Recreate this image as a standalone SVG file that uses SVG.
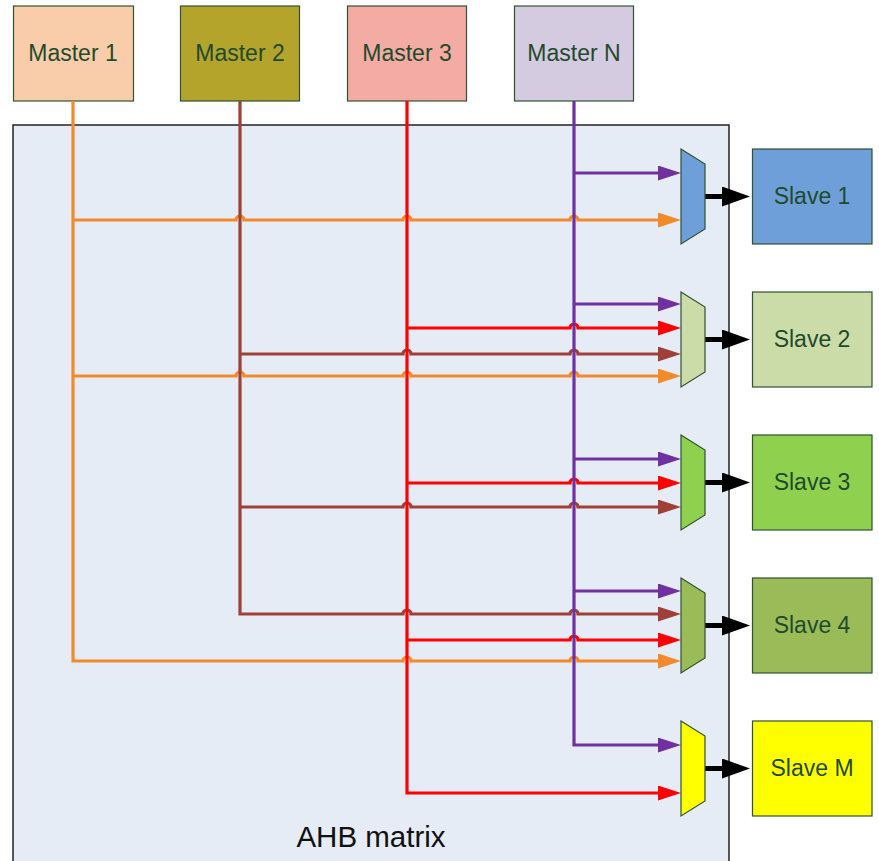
<svg xmlns="http://www.w3.org/2000/svg" width="879" height="861" viewBox="0 0 879 861">
<style>
.box{stroke:#2f5233;stroke-width:1.2}
.lbl{font-family:"Liberation Sans",Arial,sans-serif;font-size:23px;fill:#1f4a2c;text-anchor:middle}
.w{fill:none;stroke-width:3.2}
.o{stroke:#f28a2b}.b{stroke:#9e4038}.r{stroke:#ff0000}.p{stroke:#7030a0}
.out{stroke:#000;stroke-width:5;stroke-linecap:round}
</style>
<defs>
<marker id="ao" markerUnits="userSpaceOnUse" markerWidth="23" markerHeight="15" refX="2" refY="7.5" orient="auto"><path d="M0,0L23,7.5L0,15z" fill="#f28a2b"/></marker>
<marker id="ab" markerUnits="userSpaceOnUse" markerWidth="23" markerHeight="15" refX="2" refY="7.5" orient="auto"><path d="M0,0L23,7.5L0,15z" fill="#9e4038"/></marker>
<marker id="ar" markerUnits="userSpaceOnUse" markerWidth="23" markerHeight="15" refX="2" refY="7.5" orient="auto"><path d="M0,0L23,7.5L0,15z" fill="#ff0000"/></marker>
<marker id="ap" markerUnits="userSpaceOnUse" markerWidth="23" markerHeight="15" refX="2" refY="7.5" orient="auto"><path d="M0,0L23,7.5L0,15z" fill="#7030a0"/></marker>
<marker id="ak" markerUnits="userSpaceOnUse" markerWidth="28" markerHeight="20" refX="2" refY="10" orient="auto"><path d="M0,0L28,10L0,20z" fill="#000"/></marker>
</defs>
<rect width="879" height="861" fill="#fff"/>
<g id="ahb-matrix">
<rect x="13" y="125" width="716" height="750" fill="#e6ecf6" stroke="#222" stroke-width="1.5"/>
<text x="371" y="847" font-family="Liberation Sans,Arial,sans-serif" font-size="29.5" fill="#111" text-anchor="middle">AHB matrix</text>
</g>
<g id="master1"><rect class="box" x="13.5" y="6" width="120" height="95" fill="#facdaa"/><text class="lbl" x="73" y="61">Master 1</text></g>
<g id="master2"><rect class="box" x="180.5" y="6" width="119" height="95" fill="#b5a42b"/><text class="lbl" x="240" y="61">Master 2</text></g>
<g id="master3"><rect class="box" x="347.5" y="6" width="119" height="95" fill="#f4aba4"/><text class="lbl" x="407" y="61">Master 3</text></g>
<g id="masterN"><rect class="box" x="514.5" y="6" width="119" height="95" fill="#d4cbe0"/><text class="lbl" x="574" y="61">Master N</text></g>

<g id="connectors">
<path class="w o" d="M73,101V661H403a4,4 0 0 1 8,0H570a4,4 0 0 1 8,0H660" marker-end="url(#ao)"/>
<path class="w o" d="M73,220H236a4,4 0 0 1 8,0H403a4,4 0 0 1 8,0H570a4,4 0 0 1 8,0H660" marker-end="url(#ao)"/>
<path class="w o" d="M73,376H236a4,4 0 0 1 8,0H403a4,4 0 0 1 8,0H570a4,4 0 0 1 8,0H660" marker-end="url(#ao)"/>
<path class="w b" d="M240,101V614H403a4,4 0 0 1 8,0H570a4,4 0 0 1 8,0H660" marker-end="url(#ab)"/>
<path class="w b" d="M240,354H403a4,4 0 0 1 8,0H570a4,4 0 0 1 8,0H660" marker-end="url(#ab)"/>
<path class="w b" d="M240,507H403a4,4 0 0 1 8,0H570a4,4 0 0 1 8,0H660" marker-end="url(#ab)"/>
<path class="w r" d="M407,101V793H660" marker-end="url(#ar)"/>
<path class="w r" d="M407,328H570a4,4 0 0 1 8,0H660" marker-end="url(#ar)"/>
<path class="w r" d="M407,483H570a4,4 0 0 1 8,0H660" marker-end="url(#ar)"/>
<path class="w r" d="M407,640H570a4,4 0 0 1 8,0H660" marker-end="url(#ar)"/>
<path class="w p" d="M574,101V745H660" marker-end="url(#ap)"/>
<path class="w p" d="M574,173H660" marker-end="url(#ap)"/>
<path class="w p" d="M574,304H660" marker-end="url(#ap)"/>
<path class="w p" d="M574,459H660" marker-end="url(#ap)"/>
<path class="w p" d="M574,591H660" marker-end="url(#ap)"/>
<path class="out" d="M704,196.5H724" marker-end="url(#ak)"/>
<path class="out" d="M704,339.5H724" marker-end="url(#ak)"/>
<path class="out" d="M704,482.5H724" marker-end="url(#ak)"/>
<path class="out" d="M704,625.5H724" marker-end="url(#ak)"/>
<path class="out" d="M704,768.5H724" marker-end="url(#ak)"/>
</g>

<g id="mux1"><path class="box" d="M681,149L705,164V229L681,244z" fill="#6f9fd8"/></g>
<g id="mux2"><path class="box" d="M681,292L705,307V372L681,387z" fill="#cbdca9"/></g>
<g id="mux3"><path class="box" d="M681,435L705,450V515L681,530z" fill="#8fd14f"/></g>
<g id="mux4"><path class="box" d="M681,578L705,593V658L681,673z" fill="#9bbb59"/></g>
<g id="muxM"><path class="box" d="M681,721L705,736V801L681,816z" fill="#ffff00"/></g>

<g id="slave1"><rect class="box" x="752.5" y="149" width="119.5" height="95" fill="#6f9fd8"/><text class="lbl" x="812" y="204">Slave 1</text></g>
<g id="slave2"><rect class="box" x="752.5" y="292" width="119.5" height="95" fill="#cbdca9"/><text class="lbl" x="812" y="347">Slave 2</text></g>
<g id="slave3"><rect class="box" x="752.5" y="435" width="119.5" height="95" fill="#8fd14f"/><text class="lbl" x="812" y="490">Slave 3</text></g>
<g id="slave4"><rect class="box" x="752.5" y="578" width="119.5" height="95" fill="#9bbb59"/><text class="lbl" x="812" y="633">Slave 4</text></g>
<g id="slaveM"><rect class="box" x="752.5" y="721" width="119.5" height="95" fill="#ffff00"/><text class="lbl" x="812" y="776">Slave M</text></g>
</svg>
